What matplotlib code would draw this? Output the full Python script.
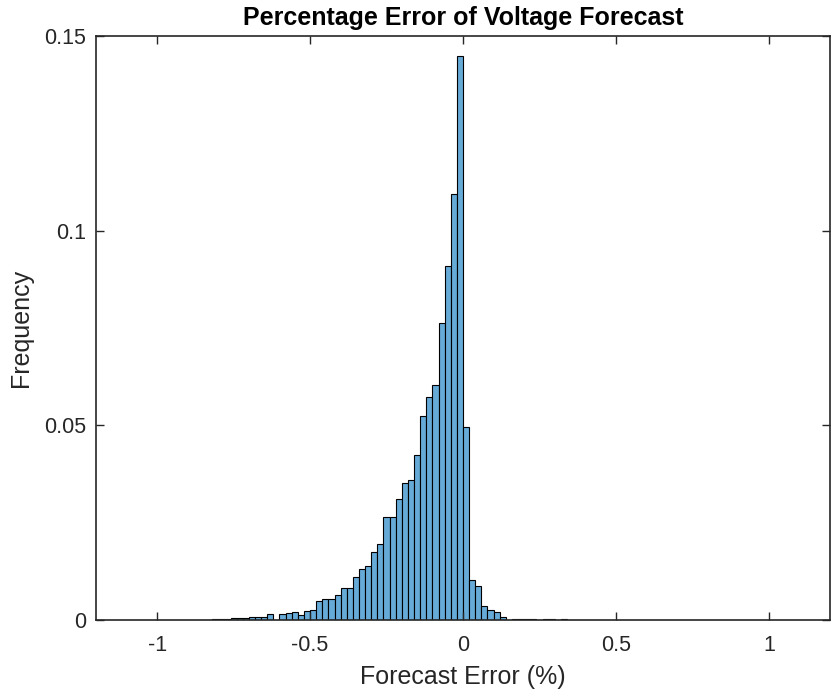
import numpy as np
import matplotlib
matplotlib.use('Agg')
import matplotlib.pyplot as plt

# bin left edges (width 0.02) and relative frequency of each bin
bin_w = 0.02
freq = [0.0001, 0.0001, 0.0003, 0.0002, 0.0003, 0.0006, 0.0005, 0.0006,
        0.0007, 0.0009, 0.0009, 0.0015, 0.0000, 0.0015, 0.0017, 0.0020,
        0.0013, 0.0022, 0.0026, 0.0048, 0.0053, 0.0053, 0.0064, 0.0081,
        0.0083, 0.0110, 0.0130, 0.0139, 0.0174, 0.0194, 0.0264, 0.0264,
        0.0312, 0.0351, 0.0360, 0.0423, 0.0524, 0.0574, 0.0603, 0.0762,
        0.0909, 0.1093, 0.1449, 0.0495, 0.0102, 0.0087, 0.0035, 0.0027,
        0.0020, 0.0007, 0.0001, 0.0003, 0.0003, 0.0003, 0.0002, 0.0001,
        0.0003, 0.0002, 0.0001, 0.0003]
bin_left = np.round(-0.86 + bin_w * np.arange(len(freq)), 2)

xticks = [-1, -0.5, 0, 0.5, 1]
xtick_labels = ['-1', '-0.5', '0', '0.5', '1']
yticks = [0, 0.05, 0.1, 0.15]
ytick_labels = ['0', '0.05', '0.1', '0.15']

plt.rcParams['font.family'] = ['Liberation Sans', 'DejaVu Sans']
txt = '#262626'

fig = plt.figure(figsize=(8.33, 6.93), dpi=100)
ax = fig.add_axes([0.1152, 0.1053, 0.8812, 0.8427])

ax.bar(bin_left, freq, width=bin_w, align='edge', color='#66aad7',
       edgecolor='black', linewidth=0.8)

ax.set_xlim(-1.2, 1.2)
ax.set_ylim(0, 0.15)
ax.set_xticks(xticks)
ax.set_xticklabels(xtick_labels)
ax.set_yticks(yticks)
ax.set_yticklabels(ytick_labels)
ax.tick_params(direction='in', top=True, right=True, length=6, width=1,
               labelsize=15.5, colors=txt)
ax.tick_params(axis='x', pad=11)
ax.tick_params(axis='y', pad=7)
for s in ax.spines.values():
    s.set_linewidth(1.2)
    s.set_color(txt)

ax.set_xlabel('Forecast Error (%)', fontsize=18, color=txt, labelpad=6)
ax.set_ylabel('Frequency', fontsize=18, color=txt, labelpad=8)
ax.set_title('Percentage Error of Voltage Forecast', fontsize=18,
             fontweight='bold', color='black', pad=8)

fig.savefig('out.png', dpi=100)
